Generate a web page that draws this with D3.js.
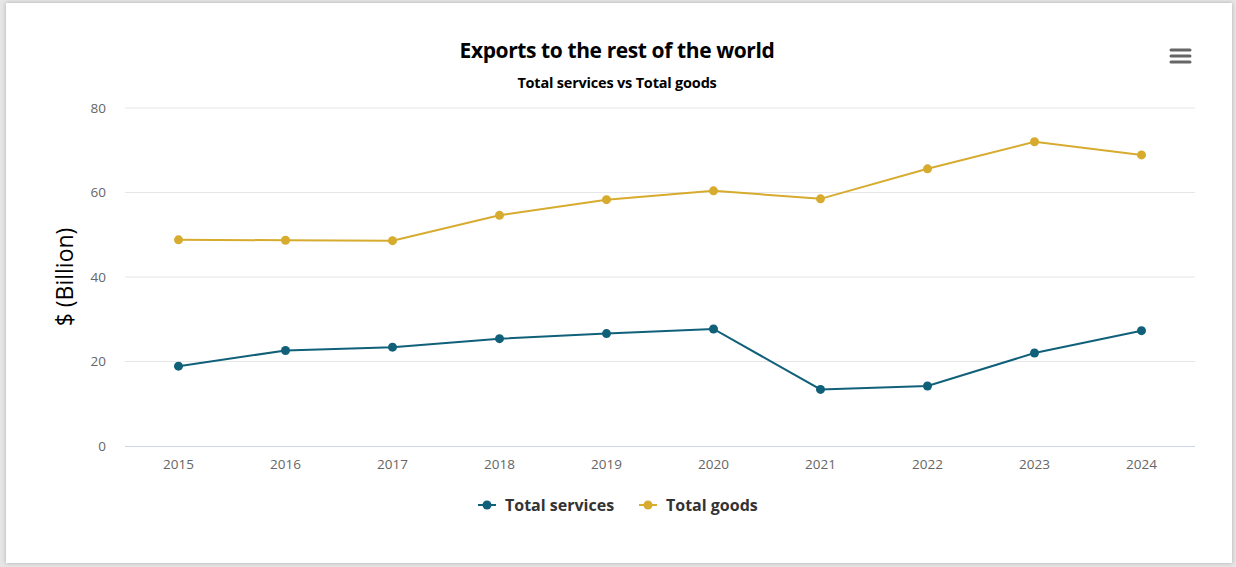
<!DOCTYPE html>
<html><head><meta charset="utf-8">
<script src="https://cdn.jsdelivr.net/npm/d3@7"></script>
<style>
html,body{margin:0;padding:0;background:#e6e6e6;}
#card{position:absolute;left:6px;top:3px;width:1226px;height:560px;background:#fff;box-shadow:0 0 4px rgba(0,0,0,0.25);}
svg{position:absolute;left:0;top:0;}
</style></head><body>
<div id="card"></div>
<svg id="chart" width="1236" height="567"></svg>
<script>
const years = ["2015","2016","2017","2018","2019","2020","2021","2022","2023","2024"];
const services = [18.9, 22.6, 23.4, 25.4, 26.6, 27.7, 13.4, 14.2, 22.0, 27.3];
const goods = [48.8, 48.7, 48.6, 54.6, 58.3, 60.4, 58.5, 65.6, 72.0, 68.9];
const yTicks = [0, 20, 40, 60, 80];
const seriesNames = ["Total services", "Total goods"];
const colors = ["#10607a", "#d6ab2e"];

(function () {
const svg = d3.select("#chart");
const pLeft = 125, pRight = 1195, pTop = 108, pBottom = 446;
const x = d3.scaleBand().domain(years).range([pLeft, pRight]);
const y = d3.scaleLinear().domain([0, 80]).range([pBottom, pTop]);
const font = "'Open Sans', 'Noto Sans', sans-serif";

// grid
svg.append("g").selectAll("line").data(yTicks.filter(d => d > 0)).join("line")
  .attr("x1", pLeft).attr("x2", pRight)
  .attr("y1", d => y(d)).attr("y2", d => y(d))
  .attr("stroke", "#e6e6e6").attr("stroke-width", 1);

// y axis
const yAxis = svg.append("g").attr("transform", `translate(${pLeft - 19},0)`)
  .call(d3.axisLeft(y).tickValues(yTicks).tickSize(0).tickPadding(0));
yAxis.select(".domain").remove();
yAxis.selectAll("text").attr("fill", "#666").style("font-size", "13.5px").style("font-family", font);

// x axis
svg.append("line").attr("x1", pLeft).attr("x2", pRight).attr("y1", pBottom + 0.5).attr("y2", pBottom + 0.5)
  .attr("stroke", "#ccd6eb").attr("stroke-width", 1);
const xAxis = svg.append("g").attr("transform", `translate(0,${pBottom})`)
  .call(d3.axisBottom(x).tickSize(0).tickPadding(13));
xAxis.select(".domain").remove();
xAxis.selectAll("text").attr("fill", "#666").style("font-size", "13.5px").style("font-family", font);

// y title
svg.append("text").attr("transform", `translate(73,${(pTop + pBottom) / 2}) rotate(-90)`)
  .attr("text-anchor", "middle").attr("fill", "#000")
  .style("font-size", "23px").style("font-family", font).text("$ (Billion)");

// titles
svg.append("text").attr("x", 617).attr("y", 58).attr("text-anchor", "middle")
  .attr("fill", "#000").style("font-size", "21px").style("font-weight", "bold")
  .style("font-family", font).style("letter-spacing", "-0.4px").text("Exports to the rest of the world");
svg.append("text").attr("x", 617).attr("y", 88).attr("text-anchor", "middle")
  .attr("fill", "#000").style("font-size", "14.5px").style("font-weight", "bold")
  .style("font-family", font).style("letter-spacing", "-0.2px").text("Total services vs Total goods");

// lines
const data = [services, goods];
const line = d3.line().x((d, i) => x(years[i]) + x.bandwidth() / 2).y(d => y(d));
data.forEach((vals, k) => {
  svg.append("path").datum(vals).attr("d", line).attr("fill", "none")
    .attr("stroke", colors[k]).attr("stroke-width", 2);
  svg.append("g").selectAll("circle").data(vals).join("circle")
    .attr("cx", (d, i) => x(years[i]) + x.bandwidth() / 2).attr("cy", d => y(d))
    .attr("r", 4.5).attr("fill", colors[k]);
});

// legend
const legendItems = [{n: seriesNames[0], c: colors[0], x: 478}, {n: seriesNames[1], c: colors[1], x: 639}];
legendItems.forEach(it => {
  const g = svg.append("g").attr("transform", `translate(${it.x},505)`);
  g.append("line").attr("x1", 0).attr("x2", 18).attr("y1", 0).attr("y2", 0).attr("stroke", it.c).attr("stroke-width", 2);
  g.append("circle").attr("cx", 9).attr("cy", 0).attr("r", 4.5).attr("fill", it.c);
  g.append("text").attr("x", 27).attr("y", 5.5).attr("fill", "#333")
    .style("font-size", "16px").style("font-weight", "bold").style("font-family", font).text(it.n);
});

// menu icon
[0, 6, 12].forEach(dy => {
  svg.append("line").attr("x1", 1171).attr("x2", 1190).attr("y1", 50 + dy).attr("y2", 50 + dy)
    .attr("stroke", "#666").attr("stroke-width", 3).attr("stroke-linecap", "round");
});
})();
</script>
</body></html>
